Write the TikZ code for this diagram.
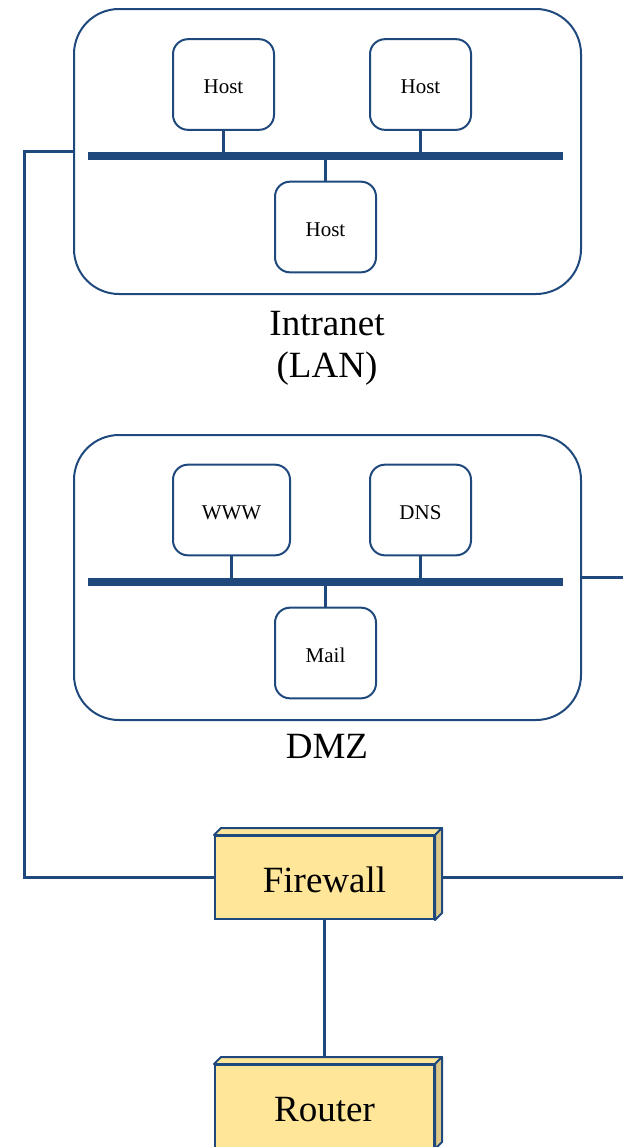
\documentclass[tikz,border=0pt]{standalone}
\usepackage{fontspec}
\setmainfont{Liberation Serif}
\definecolor{netblue}{RGB}{31,73,125}
\definecolor{boxfill}{RGB}{255,230,153}
\definecolor{boxside}{RGB}{222,200,135}
\begin{document}
\begin{tikzpicture}[x=0.75pt,y=-0.75pt,
  zone/.style={draw=netblue,line width=1.5pt,rounded corners=33.75pt,minimum width=380.25pt,minimum height=213.75pt,inner sep=0pt},
  hostbox/.style={draw=netblue,line width=1.5pt,rounded corners=11.25pt,minimum width=75.75pt,minimum height=68pt,inner sep=0pt,text height=13.5pt,text depth=0pt,font=\fontsize{15.75}{18}\selectfont},
  wide/.style={hostbox,minimum width=87.75pt},
  bus/.style={draw=netblue,line width=6pt},
  link/.style={draw=netblue,line width=2.25pt},
  device/.style={draw=netblue,fill=boxfill,line width=1.5pt,minimum width=164.25pt,minimum height=62.25pt,inner sep=0pt,text height=23pt,text depth=0pt,font=\fontsize{27.75}{31.5}\selectfont},
  lbl/.style={align=center,font=\fontsize{27.75}{31.5}\selectfont}]
\useasboundingbox (0,0) rectangle (623,1147);
% Intranet
\node[zone] (intra) at (327.5,151.5) {};
\node[hostbox] (h1) at (223.5,84.5) {Host};
\node[hostbox] (h2) at (420.5,84.5) {Host};
\node[hostbox] (h3) at (325.5,227) {Host};
\coordinate (ibl) at (88,156);
\coordinate (ibr) at (563,156);
\draw[link] (h1.south) -- (h1 |- ibl);
\draw[link] (h2.south) -- (h2 |- ibl);
\draw[link] (h3.north) -- (h3 |- ibl);
\draw[bus] (ibl) -- (ibr);
\node[lbl] (ilbl) at (327,348) {Intranet\\(LAN)};
% DMZ
\node[zone] (dmz) at (327.5,577.5) {};
\node[wide] (www) at (231.5,510) {WWW};
\node[hostbox] (dns) at (420.5,510) {DNS};
\node[hostbox] (mail) at (325.5,653) {Mail};
\coordinate (dbl) at (88,582);
\coordinate (dbr) at (563,582);
\draw[link] (www.south) -- (www |- dbl);
\draw[link] (dns.south) -- (dns |- dbl);
\draw[link] (mail.north) -- (mail |- dbl);
\draw[bus] (dbl) -- (dbr);
\node[lbl] (dlbl) at (327,746) {DMZ};
% devices
\node[device] (fw) at (324.5,877.5) {Firewall};
\node[device] (rt) at (324.5,1106.5) {Router};
\draw[link] (fw.south) -- (rt.north);
\foreach \d in {fw,rt}{
  \draw[netblue,fill=boxfill,line width=1.5pt,line join=round] (\d.north west) -- ++(7,-7) -- ([shift={(7,-7)}]\d.north east) -- (\d.north east) -- cycle;
  \draw[netblue,fill=boxside,line width=1.5pt,line join=round] (\d.north east) -- ++(7,-7) -- ([shift={(7,-7)}]\d.south east) -- (\d.south east) -- cycle;
}
% connectors
\coordinate (lc) at (24,151.5);
\coordinate (rd) at (623,577.5);
\coordinate (rf) at (623,877.5);
\draw[link] (intra.west) -- (lc) |- (fw.west);
\draw[link] (dmz.east) -- (rd);
\draw[link] ([shift={(7,0)}]fw.east) -- (rf);
\end{tikzpicture}
\end{document}
